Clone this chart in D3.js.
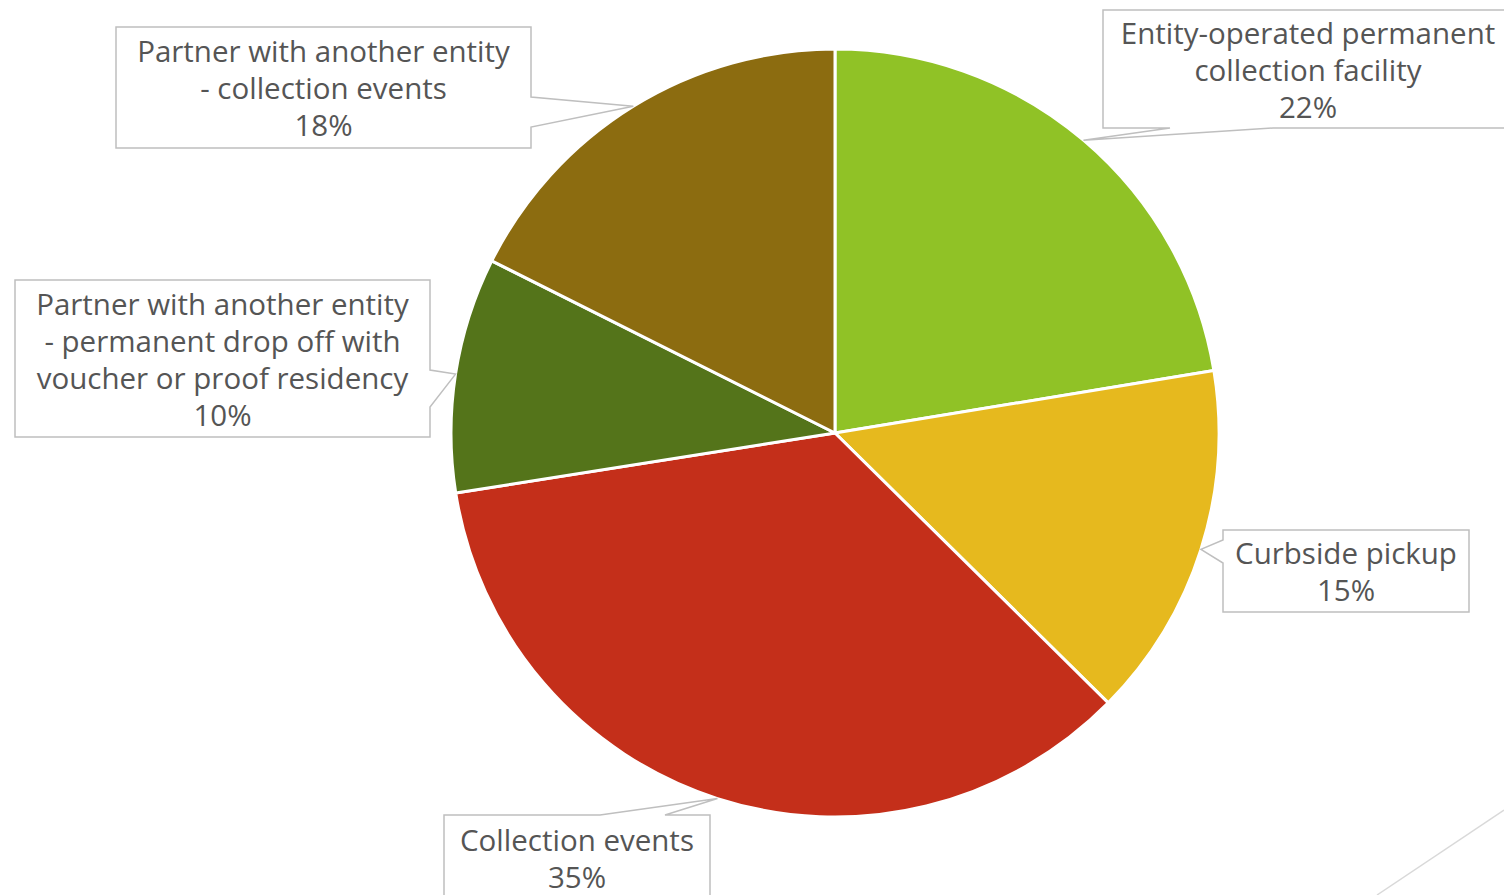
<!DOCTYPE html>
<html>
<head>
<meta charset="utf-8">
<script src="https://cdn.jsdelivr.net/npm/d3@7"></script>
<style>
  html, body { margin: 0; padding: 0; background: #fff; }
  svg { display: block; }
</style>
</head>
<body>
<svg id="chart" width="1504" height="895"></svg>
<script>
// data
var categories = [
  "Entity-operated permanent collection facility",
  "Curbside pickup",
  "Collection events",
  "Partner with another entity - permanent drop off with voucher or proof residency",
  "Partner with another entity - collection events"
];
var values = [22.4, 15.0, 35.1, 9.9, 17.6];
var colors = ["#90C226", "#E6B91E", "#C42F1A", "#54741A", "#8C6C10"];
// label lines as they wrap in the callouts
var labelLines = [
  ["Entity-operated permanent", "collection facility"],
  ["Curbside pickup"],
  ["Collection events"],
  ["Partner with another entity", "- permanent drop off with", "voucher or proof residency"],
  ["Partner with another entity", "- collection events"]
];

// callout box layout: box, side the pointer leaves from, base of pointer on that side
var callouts = [
  { x: 1103, y: 10, w: 410, h: 118, side: "bottom", b: [1170, 1273] },
  { x: 1223, y: 530, w: 246, h: 82, side: "left", b: [540, 563] },
  { x: 444, y: 815, w: 266, h: 86, side: "top", b: [600, 665] },
  { x: 15, y: 280, w: 415, h: 157, side: "right", b: [370, 407] },
  { x: 116, y: 27, w: 415, h: 121, side: "right", b: [97, 127] }
];

var svg = d3.select("#chart");
var cx = 835, cy = 433, r = 384;
var lineH = 37;

var pie = d3.pie().sort(null).value(function(d) { return d; });
var arcs = pie(values);
var arc = d3.arc().innerRadius(0).outerRadius(r);

var g = svg.append("g").attr("transform", "translate(" + cx + "," + cy + ")");

// slices
g.selectAll("path.slice")
  .data(arcs)
  .enter().append("path")
  .attr("class", "slice")
  .attr("d", arc)
  .attr("fill", function(d, i) { return colors[i]; })
  .attr("stroke", "#fff")
  .attr("stroke-width", 3)
  .attr("stroke-linejoin", "round");

// leader line of a label outside the frame
svg.append("line")
  .attr("x1", 1504).attr("y1", 810)
  .attr("x2", 1377).attr("y2", 895)
  .attr("stroke", "#d9d9d9")
  .attr("stroke-width", 1.5);

// callout path: rectangle with a wedge pointing to tip
function calloutPath(c, tip) {
  var x0 = c.x, y0 = c.y, x1 = c.x + c.w, y1 = c.y + c.h;
  var p = d3.path();
  p.moveTo(x0, y0);
  if (c.side === "top") { p.lineTo(c.b[0], y0); p.lineTo(tip[0], tip[1]); p.lineTo(c.b[1], y0); }
  p.lineTo(x1, y0);
  if (c.side === "right") { p.lineTo(x1, c.b[0]); p.lineTo(tip[0], tip[1]); p.lineTo(x1, c.b[1]); }
  p.lineTo(x1, y1);
  if (c.side === "bottom") { p.lineTo(c.b[1], y1); p.lineTo(tip[0], tip[1]); p.lineTo(c.b[0], y1); }
  p.lineTo(x0, y1);
  if (c.side === "left") { p.lineTo(x0, c.b[1]); p.lineTo(tip[0], tip[1]); p.lineTo(x0, c.b[0]); }
  p.closePath();
  return p.toString();
}

var fmt = d3.format(".0f");

arcs.forEach(function(a, i) {
  var c = callouts[i];
  var mid = (a.startAngle + a.endAngle) / 2;
  var tip = [cx + r * Math.sin(mid), cy - r * Math.cos(mid)];

  svg.append("path")
    .attr("d", calloutPath(c, tip))
    .attr("fill", "#fff")
    .attr("stroke", "#BFBFBF")
    .attr("stroke-width", 1.5);

  var lines = labelLines[i].concat([fmt(a.data) + "%"]);
  var tx = c.x + c.w / 2;
  var ty0 = c.y + c.h / 2 - (lines.length - 1) * lineH / 2;

  svg.append("text")
    .attr("x", tx)
    .attr("text-anchor", "middle")
    .attr("font-family", "'Open Sans', sans-serif")
    .attr("font-size", 29.5)
    .attr("fill", "#555555")
    .selectAll("tspan")
    .data(lines)
    .enter().append("tspan")
    .attr("x", tx)
    .attr("y", function(d, j) { return ty0 + j * lineH; })
    .attr("dominant-baseline", "central")
    .text(function(d) { return d; });
});
</script>
</body>
</html>
